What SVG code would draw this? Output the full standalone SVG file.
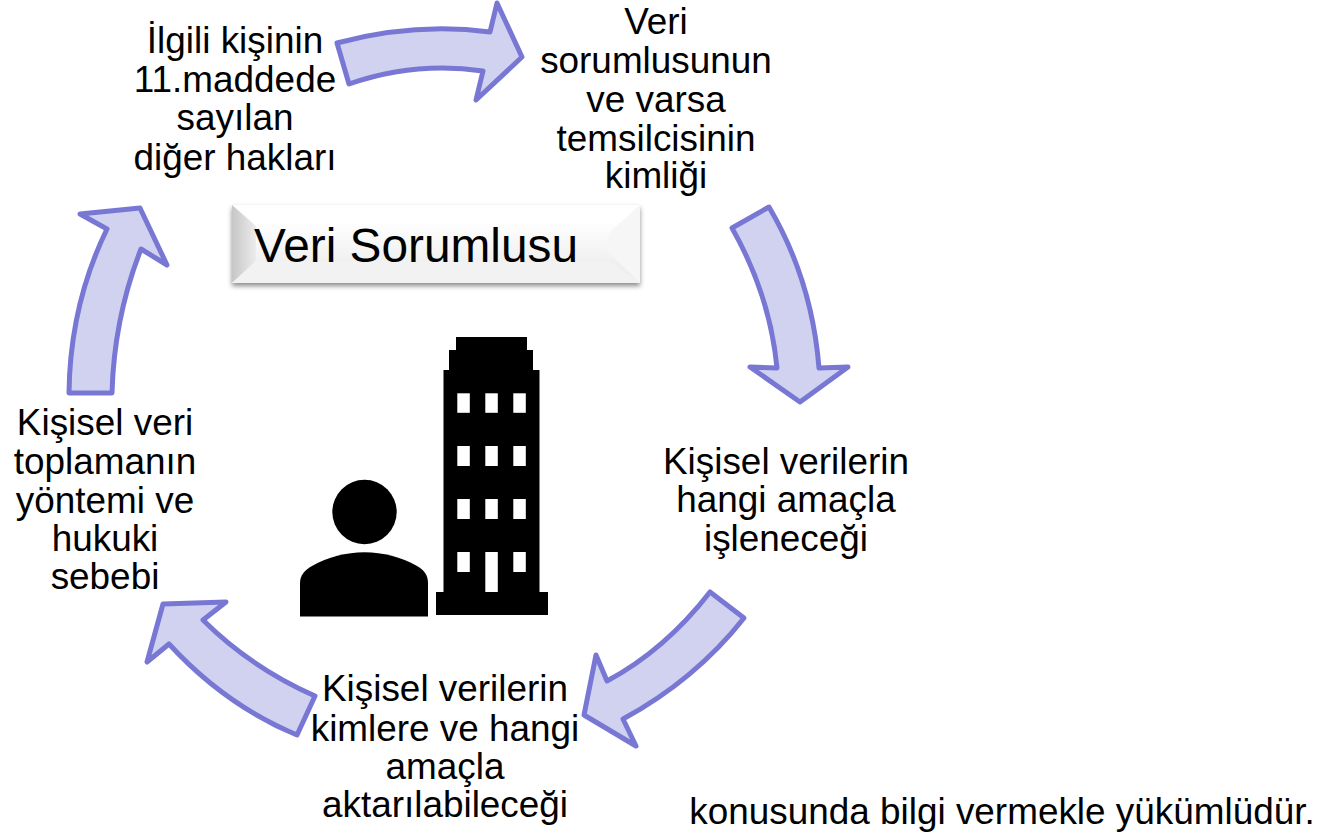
<svg xmlns="http://www.w3.org/2000/svg" width="1337" height="832" viewBox="0 0 1337 832">
<style>
text{font-family:"Liberation Sans",Arial,sans-serif;font-size:36.9px;fill:#000;text-anchor:middle}
.arrow{fill:#d0d2f0;stroke:#7878d4;stroke-width:5;stroke-linejoin:round}
.win{fill:#fff}
</style>
<defs>
<linearGradient id="face" x1="0" y1="0" x2="0" y2="1"><stop offset="0" stop-color="#fff"/><stop offset="0.2" stop-color="#fff"/><stop offset="0.8" stop-color="#eeeeee"/><stop offset="1" stop-color="#efefef"/></linearGradient>
<linearGradient id="left" x1="0" y1="0" x2="1" y2="0"><stop offset="0" stop-color="#c6c6c6"/><stop offset="1" stop-color="#ececec"/></linearGradient>
<filter id="sh" x="-5%" y="-15%" width="110%" height="135%"><feDropShadow dx="0" dy="3" stdDeviation="2.5" flood-color="#000" flood-opacity="0.45"/></filter>
</defs>
<rect width="1337" height="832" fill="#fff"/>
<g id="connectors">
<path class="arrow" d="M337 43Q415 22 490 32L497 3L522 57L476 100L483 71Q415 61 349 84Z"/>
<path class="arrow" d="M732 228L769 207Q812 280 819 368L848 367L800 402L750 367L777 368Q770 295 732 228Z"/>
<path class="arrow" d="M710 592L744 618Q695 680 623 719L636 746L584 715L596 655L607 681Q665 650 710 592Z"/>
<path class="arrow" d="M315 696L297 735Q225 705 169 644L147 662L163 604L226 602L203 620Q250 667 315 696Z"/>
<path class="arrow" d="M69 393H112Q114 318 141 249L167 265L140 208L80 214L107 229Q70 305 69 393Z"/>
</g>
<g id="n-title">
<rect x="232" y="205" width="408" height="78" fill="#eee" filter="url(#sh)"/>
<rect x="232" y="205" width="408" height="78" fill="url(#face)"/>
<polygon points="232,205 256,226 256,261 232,283" fill="url(#left)"/>
<polygon points="640,205 640,283 606,250 610,232" fill="#f6f6f6"/>
<polygon points="232,283 640,283 610,262 256,261" fill="#f2f2f2"/>
<text x="416" y="262" style="font-size:47.8px">Veri Sorumlusu</text>
</g>
<g id="n-icon">
<path d="M456 337H527V350H533V370H539.5V592H548V615H436V592H443.5V370H449V350H456Z" fill="#000"/>
<g class="win">
<rect x="457.3" y="393.3" width="12.5" height="19.5"/><rect x="485.3" y="393.3" width="12.5" height="19.5"/><rect x="513.3" y="393.3" width="12.5" height="19.5"/>
<rect x="457.3" y="446" width="12.5" height="20"/><rect x="485.3" y="446" width="12.5" height="20"/><rect x="513.3" y="446" width="12.5" height="20"/>
<rect x="457.3" y="499" width="12.5" height="20"/><rect x="485.3" y="499" width="12.5" height="20"/><rect x="513.3" y="499" width="12.5" height="20"/>
<rect x="457.3" y="552" width="12.5" height="20"/><rect x="485.3" y="552" width="12.5" height="40"/><rect x="513.3" y="552" width="12.5" height="20"/>
</g>
<circle cx="364.5" cy="512" r="32.2" fill="#000"/>
<path d="M300 616.5V583C300 575 305 570 312 566C328 557 346 552.3 364.5 552.3C383 552.3 401 557 417 566C424 570 428 575 428 583V616.5Z" fill="#000"/>
</g>
<g id="n-top"><text x="656" y="34">Veri</text><text x="656" y="73">sorumlusunun</text><text x="656" y="112">ve varsa</text><text x="656" y="151">temsilcisinin</text><text x="656" y="188">kimliği</text></g>
<g id="n-topleft"><text x="235" y="53">İlgili kişinin</text><text x="235" y="92">11.maddede</text><text x="235" y="130">sayılan</text><text x="235" y="170">diğer hakları</text></g>
<g id="n-right"><text x="786" y="474">Kişisel verilerin</text><text x="786" y="512">hangi amaçla</text><text x="786" y="551">işleneceği</text></g>
<g id="n-bottom"><text x="445" y="701">Kişisel verilerin</text><text x="445" y="741">kimlere ve hangi</text><text x="445" y="779">amaçla</text><text x="445" y="817">aktarılabileceği</text></g>
<g id="n-left"><text x="105" y="435">Kişisel veri</text><text x="105" y="474">toplamanın</text><text x="105" y="513">yöntemi ve</text><text x="105" y="551">hukuki</text><text x="105" y="589">sebebi</text></g>
<text id="n-note" x="1002" y="824">konusunda bilgi vermekle yükümlüdür.</text>
</svg>
